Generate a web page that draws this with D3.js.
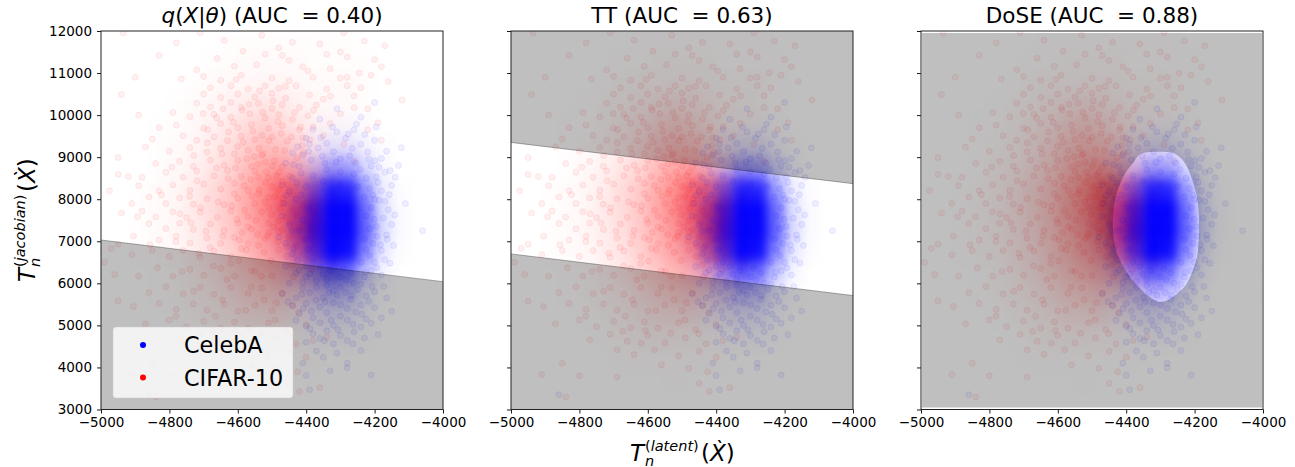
<!DOCTYPE html>
<html><head><meta charset="utf-8">
<style>html,body{margin:0;background:#fff}svg{display:block;font-family:"DejaVu Sans",sans-serif}</style>
<script src="https://cdn.jsdelivr.net/npm/d3@7/dist/d3.min.js"></script></head><body>
<svg id="c" width="1295" height="467"></svg>
<script>
const xTicks=[-5000,-4800,-4600,-4400,-4200,-4000];
const yTicks=[3000,4000,5000,6000,7000,8000,9000,10000,11000,12000];
const panelTitles=["q(X|θ) (AUC  = 0.40)","TT (AUC  = 0.63)","DoSE (AUC  = 0.88)"];
const legendLabels=["CelebA","CIFAR-10"];
// density, percent opacity per bin
const binX=[-4975,-4925,-4875,-4825,-4775,-4725,-4675,-4625,-4575,-4525,-4475,-4425,-4375,-4325,-4275,-4225,-4175,-4125,-4075,-4025];
const binY=[11750,11250,10750,10250,9750,9250,8750,8250,7750,7250,6750,6250,5750,5250,4750,4250,3750,3250];
const redDensity=[
[0,0,0,0,0,0,0,1,1,1,1,1,1,1,1,0,0,0,0,0],
[0,0,0,0,0,0,1,1,2,2,2,2,1,1,1,1,0,0,0,0],
[0,0,0,0,0,1,2,3,3,4,4,3,2,2,2,1,0,0,0,0],
[0,0,0,0,1,2,3,6,8,10,9,6,4,3,2,1,0,0,0,0],
[0,0,0,1,1,3,6,9,14,18,15,10,5,3,2,1,0,0,0,0],
[0,0,0,1,2,4,8,13,20,26,24,17,8,3,2,1,0,0,0,0],
[0,0,0,1,3,6,10,16,26,34,38,32,18,6,2,0,0,0,0,0],
[0,0,1,2,4,8,14,21,32,44,60,58,50,20,3,0,0,0,0,0],
[0,0,1,2,4,9,14,22,34,46,62,72,85,50,5,0,0,0,0,0],
[0,0,1,2,4,8,13,21,30,42,56,74,90,60,6,0,0,0,0,0],
[0,0,1,2,3,7,11,18,27,36,44,60,65,40,4,0,0,0,0,0],
[0,0,0,1,2,5,9,15,21,28,31,30,22,9,2,0,0,0,0,0],
[0,0,0,1,2,4,6,10,15,18,20,15,9,4,1,0,0,0,0,0],
[0,0,0,0,1,2,4,6,9,10,10,6,3,1,0,0,0,0,0,0],
[0,0,0,0,0,1,2,3,4,4,3,2,1,1,0,0,0,0,0,0],
[0,0,0,0,0,0,1,1,1,1,1,1,1,0,0,0,0,0,0,0],
[0,0,0,0,0,0,0,0,0,1,0,0,0,0,0,0,0,0,0,0],
[0,0,0,0,0,0,0,0,0,0,0,0,0,0,0,0,0,0,0,0]];
const blueDensity=[
[0,0,0,0,0,0,0,0,0,0,0,0,0,0,0,0,0,0,0,0],
[0,0,0,0,0,0,0,0,0,0,0,0,0,0,0,0,0,0,0,0],
[0,0,0,0,0,0,0,0,0,0,0,0,0,0,0,0,0,0,0,0],
[0,0,0,0,0,0,0,0,0,0,0,0,0,0,0,0,0,0,0,0],
[0,0,0,0,0,0,0,0,0,0,0,0,1,2,2,1,0,0,0,0],
[0,0,0,0,0,0,0,0,0,0,0,2,5,11,10,4,1,0,0,0],
[0,0,0,0,0,0,0,0,0,0,1,6,20,40,38,16,3,0,0,0],
[0,0,0,0,0,0,0,0,0,0,3,18,52,88,86,40,7,1,0,0],
[0,0,0,0,0,0,0,0,0,1,7,32,70,100,100,58,12,2,0,0],
[0,0,0,0,0,0,0,0,0,1,8,36,76,100,100,62,14,2,0,0],
[0,0,0,0,0,0,0,0,0,1,6,30,68,100,96,48,9,1,0,0],
[0,0,0,0,0,0,0,0,0,0,4,16,42,66,56,22,4,0,0,0],
[0,0,0,0,0,0,0,0,0,0,2,7,18,28,24,8,1,0,0,0],
[0,0,0,0,0,0,0,0,0,0,1,3,7,11,9,3,0,0,0,0],
[0,0,0,0,0,0,0,0,0,0,0,1,2,3,3,1,0,0,0,0],
[0,0,0,0,0,0,0,0,0,0,0,0,0,0,0,0,0,0,0,0],
[0,0,0,0,0,0,0,0,0,0,0,0,0,0,0,0,0,0,0,0],
[0,0,0,0,0,0,0,0,0,0,0,0,0,0,0,0,0,0,0,0]];
const redPoints=[
[-4935,11950],[-4710,11960],[-4530,11900],[-4290,11960],[-4780,11720],[-4640,11780],[-4440,11730],[-4360,11690],[-4230,11760],[-4170,11650],
[-4480,11600],[-4470,11420],[-4450,11300],[-4520,11450],[-4585,11520],[-4660,11350],[-4340,11450],[-4300,11500],[-4280,11380],[-4200,11320],
[-4180,11150],[-4830,11420],[-4720,11080],[-4610,11160],[-4545,11200],[-4410,11150],[-4395,11050],[-4330,11100],[-4245,11000],[-4210,10950],
[-4900,10900],[-4765,10860],[-4700,10920],[-4650,10830],[-4590,10950],[-4500,10880],[-4450,10820],[-4380,10900],[-4300,10880],[-4280,10700],
[-4160,10800],[-4240,10650],[-4680,10650],[-4620,10700],[-4570,10620],[-4520,10700],[-4480,10640],[-4430,10700],[-4340,10620],[-4120,10360],
[-4940,10490],[-4700,10500],[-4650,10420],[-4600,10500],[-4550,10430],[-4500,10520],[-4460,10400],[-4390,10480],[-4350,10380],[-4260,10460],
[-4720,10280],[-4680,10190],[-4620,10300],[-4590,10180],[-4540,10280],[-4500,10160],[-4470,10250],[-4420,10180],[-4370,10240],[-4220,10150],
[-4890,10000],[-4790,10060],[-4740,9960],[-4670,10020],[-4620,9950],[-4565,10030],[-4520,9930],[-4480,10010],[-4440,9900],[-4395,9980],
[-4830,9700],[-4780,9760],[-4700,9690],[-4650,9800],[-4600,9700],[-4560,9770],[-4510,9680],[-4470,9750],[-4420,9650],[-4380,9720],
[-4850,9430],[-4760,9510],[-4720,9400],[-4670,9480],[-4630,9390],[-4590,9500],[-4550,9420],[-4500,9480],[-4455,9380],[-4410,9460],
[-4950,8990],[-4870,9240],[-4800,9140],[-4740,9230],[-4690,9120],[-4650,9210],[-4610,9080],[-4570,9160],[-4530,9050],[-4490,9180],
[-4920,8540],[-4840,8850],[-4770,8900],[-4730,8780],[-4680,8930],[-4640,8810],[-4600,8920],[-4560,8780],[-4520,8880],[-4470,8770],
[-4950,8590],[-4880,8520],[-4810,8640],[-4760,8520],[-4720,8670],[-4670,8560],[-4630,8680],[-4590,8540],[-4550,8660],[-4510,8510],
[-4975,8200],[-4890,8320],[-4830,8200],[-4790,8340],[-4740,8210],[-4700,8360],[-4650,8240],[-4610,8380],[-4570,8210],[-4480,8230],
[-4910,7900],[-4860,8050],[-4810,7900],[-4770,8030],[-4730,7880],[-4690,8010],[-4640,7870],[-4600,8020],[-4550,7900],[-4510,8040],
[-4940,7670],[-4880,7720],[-4840,7580],[-4790,7700],[-4750,7560],[-4710,7690],[-4660,7570],[-4620,7720],[-4570,7590],[-4530,7700],
[-4860,7420],[-4810,7300],[-4770,7430],[-4730,7280],[-4680,7410],[-4640,7260],[-4600,7430],[-4560,7290],[-4510,7420],[-4470,7270],
[-4950,6930],[-4905,7120],[-4830,7030],[-4780,7120],[-4740,6960],[-4690,7080],[-4650,6950],[-4610,7090],[-4570,6940],[-4520,7060],
[-4990,6500],[-4970,6830],[-4910,6680],[-4850,6780],[-4800,6640],[-4760,6780],[-4710,6620],[-4670,6770],[-4620,6640],[-4575,6790],
[-4960,6210],[-4890,6170],[-4835,6370],[-4790,6170],[-4740,6330],[-4700,6190],[-4650,6350],[-4610,6170],[-4560,6300],[-4500,6180],
[-4950,5580],[-4860,5780],[-4810,5920],[-4760,5750],[-4710,5900],[-4670,5740],[-4620,5900],[-4570,5760],[-4530,5890],[-4470,5770],
[-4905,5450],[-4830,5520],[-4780,5380],[-4730,5510],[-4690,5360],[-4640,5500],[-4600,5340],[-4550,5480],[-4500,5350],[-4440,5470],
[-4870,5040],[-4800,5130],[-4750,4970],[-4700,5100],[-4650,4940],[-4610,5080],[-4570,4930],[-4510,5060],[-4460,4900],[-4400,5020],
[-4770,4660],[-4710,4790],[-4660,4620],[-4600,4760],[-4550,4580],[-4490,4700],[-4430,4560],[-4380,4640],[-4340,4720],[-4690,4420],
[-4640,4310],[-4580,4420],[-4510,4280],[-4450,4380],[-4400,4240],[-4850,4100],[-4560,4060],[-4480,3980],[-4425,3900],[-4450,3620],
[-4910,3830],[-4800,3800],[-4690,3770],[-4360,3520],[-4420,3430],[-4840,3300],
[-4470,8420],[-4450,8170],[-4470,7900],[-4500,8300],[-4440,7720],[-4420,7320],[-4450,7100],[-4480,7480],[-4430,6900],[-4510,7800],
[-4540,8520],[-4540,8130],[-4580,7740],[-4480,8640],[-4610,8130],[-4570,7340],[-4510,7200],[-4540,6900],[-4480,6800],[-4400,6560],
[-4280,10900],[-4260,10180],[-4300,10030],[-4220,9650],[-4190,9820],[-4330,9800],[-4350,9510],[-4290,9300],[-4180,9400],[-4260,8900],
[-4613,9827],[-4497,10342],[-4538,9211],[-4662,8743],[-4426,8987],[-4581,8321],[-4709,7798],[-4473,9564],[-4644,7123],[-4523,6734],
[-4587,10113],[-4434,10062],[-4689,9341],[-4516,8643],[-4603,7517],[-4491,8067],[-4556,9618],[-4628,8489],[-4463,9157],[-4719,8437],
[-4542,7163],[-4598,6532],[-4671,6412],[-4503,7629],[-4447,8546],[-4584,9354],[-4527,10067],[-4646,9077],[-4412,9277],[-4769,7652],
[-4618,7847],[-4482,6987],[-4561,5913],[-4693,7239],[-4537,8217],[-4458,7567],[-4632,6087],[-4574,8961],[-4509,9391],[-4741,8066],
[-4596,7031],[-4523,5612],[-4665,5218],[-4437,6153],[-4714,6713],[-4549,6283],[-4487,5538],[-4607,4881],[-4383,6331],[-4781,6993],
[-4519,8397],[-4476,7781],[-4562,8469],[-4433,8281],[-4607,8743],[-4494,7343],[-4547,7497],[-4458,6638],[-4526,9083],[-4589,6827],
[-4499,8783],[-4567,10261],[-4417,9719],[-4643,10153],[-4536,10578],[-4379,10113],[-4688,9653],[-4461,10683],[-4605,10847],[-4329,10453],
[-4729,9037],[-4793,8761],[-4657,7931],[-4823,8109],[-4737,7437],[-4681,6853],[-4857,6917],[-4763,6281],[-4621,6473],[-4893,7581],
[-4468,8013],[-4446,7439],[-4487,8559],[-4429,7611],[-4513,7127],[-4457,6873],[-4437,8109],[-4503,6541],[-4441,6433],[-4531,6167],
[-4577,5357],[-4645,5607],[-4491,5127],[-4729,5813],[-4533,4811],[-4423,5307],[-4619,4573],[-4781,5219],[-4451,4803],[-4673,4857],
[-4443,9481],[-4529,9517],[-4601,9253],[-4662,9933],[-4408,9103],[-4483,9847],[-4553,9013],[-4627,9601],[-4389,9413],[-4701,10037],
[-4479,7231],[-4521,7933],[-4453,8347],[-4409,7883],[-4393,7437],[-4412,7051],[-4541,8837],[-4559,8071],[-4493,8913],[-4587,7203]];
const bluePoints=[
[-4060,7250],[-4390,3470],[-4190,4780],[-4122,9225],[-4130,8800],[-4150,8330],[-4110,7900],[-4155,8680],[-4200,10300],[-4310,10150],
[-4360,9900],[-4310,9600],[-4260,9650],[-4240,9950],[-4195,9720],[-4380,9660],[-4425,9250],[-4400,9450],[-4340,9330],[-4285,9450],
[-4240,9310],[-4200,9400],[-4165,9140],[-4180,8970],[-4220,9120],[-4265,9210],[-4320,9130],[-4365,9220],[-4410,9050],[-4440,9100],
[-4460,8860],[-4420,8780],[-4385,8930],[-4345,8860],[-4300,8960],[-4255,8860],[-4210,8790],[-4170,8640],[-4140,8520],[-4195,8530],
[-4440,8500],[-4470,8340],[-4450,8200],[-4430,8000],[-4465,7900],[-4470,7600],[-4450,7400],[-4480,7100],[-4460,6950],[-4440,6700],
[-4190,8400],[-4180,8200],[-4170,7950],[-4160,7750],[-4175,7550],[-4150,7400],[-4165,7150],[-4145,6900],[-4180,6780],[-4170,6560],
[-4205,8100],[-4210,7800],[-4195,7350],[-4205,6950],[-4200,6500],[-4155,6480],[-4210,6300],[-4180,6200],[-4230,6150],[-4260,6000],
[-4460,6400],[-4430,6250],[-4400,6150],[-4370,6050],[-4450,6000],[-4410,5880],[-4340,5950],[-4300,5900],[-4250,5850],[-4200,5800],
[-4470,5750],[-4430,5650],[-4390,5780],[-4350,5660],[-4310,5720],[-4270,5620],[-4225,5700],[-4165,5650],[-4440,5470],[-4400,5520],
[-4360,5440],[-4320,5540],[-4280,5400],[-4240,5480],[-4200,5420],[-4150,5340],[-4420,5280],[-4380,5180],[-4340,5300],[-4300,5220],
[-4255,5320],[-4225,5150],[-4180,5180],[-4430,5120],[-4400,4980],[-4360,5060],[-4320,5000],[-4280,5120],[-4240,4960],[-4210,5050],
[-4380,4800],[-4340,4870],[-4300,4760],[-4260,4850],[-4230,4700],[-4400,4600],[-4360,4690],[-4320,4560],[-4280,4640],[-4240,4400],
[-4370,4390],[-4310,4340],[-4280,4100],[-4350,4240],[-4410,4100],[-4330,3920],[-4400,3810],[-4280,3990],[-4210,3820],[-4860,3350],
[-4340,8700],[-4300,8650],[-4260,8600],[-4225,8500],[-4380,8560],[-4415,8620],[-4350,8420],[-4300,8350],[-4250,8300],[-4400,8300],
[-4215,8250],[-4200,8000],[-4230,8050],[-4415,8100],[-4395,7800],[-4410,7500],[-4420,7250],[-4400,7050],[-4395,6800],[-4380,6500],
[-4225,7600],[-4215,7300],[-4230,7050],[-4225,6800],[-4240,6500],[-4290,6350],[-4330,6300],[-4360,6400],[-4400,6400],[-4425,6550],
[-4340,6100],[-4300,6150],[-4270,6250],[-4320,5830],[-4370,5900],[-4285,5780],[-4410,6020],[-4240,5980],[-4345,5560],[-4385,5340],
[-4437,8823],[-4393,9137],[-4273,9033],[-4217,8947],[-4353,9023],[-4187,8763],[-4313,8877],[-4243,8713],[-4427,8391],[-4459,8089],
[-4187,7973],[-4201,7521],[-4193,7117],[-4183,6913],[-4213,6661],[-4441,7253],[-4437,6841],[-4421,6313],[-4389,6227],[-4193,6367],
[-4351,6217],[-4283,6083],[-4227,6263],[-4413,5733],[-4333,5783],[-4267,5713],[-4207,5927],[-4371,5597],[-4299,5487],[-4453,5563],
[-4409,5401],[-4327,5127],[-4263,5023],[-4389,4923],[-4307,4893],[-4347,4637],[-4263,4557],[-4217,5567],[-4237,5263],[-4173,5923],
[-4163,7047],[-4141,7627],[-4157,8107],[-4199,8917],[-4357,9463],[-4277,9553],[-4323,9717],[-4253,9787],[-4229,9533],[-4391,9311]];
// outline of the accepted region in the third panel
const blobX=[-4351,-4263,-4222,-4193,-4187,-4193,-4222,-4263,-4301,-4339,-4389,-4427,-4439,-4433,-4409,-4380];
const blobY=[9100,9100,8767,8053,7340,6627,6008,5676,5557,5723,6151,6722,7340,7982,8529,8862];
// boundary lines, left and right end values
const lineEndsA=[7030,6040];
const lineEndsB=[[9350,8370],[6700,5710]];

const svg=d3.select("#c"),W=342,H=378.5,topY=31,lefts=[101,511,921];
const x=d3.scaleLinear().domain([-5000,-4000]).range([0,W]);
const y=d3.scaleLinear().domain([3000,12000]).range([H,0]);
const fmt=d=>String(d).replace("-","\u2212");
const defs=svg.append("defs");
defs.append("clipPath").attr("id","clip").append("rect").attr("width",W).attr("height",H);
defs.append("filter").attr("id","blurA").attr("x","-10%").attr("y","-10%").attr("width","120%").attr("height","120%")
 .append("feGaussianBlur").attr("stdDeviation","5.5 7");
defs.append("filter").attr("id","blurB").attr("x","-10%").attr("y","-10%").attr("width","120%").attr("height","120%")
 .append("feGaussianBlur").attr("stdDeviation","0.7");

function layer(g,matrix,pts,color){
  const d=g.append("g").attr("filter","url(#blurA)");
  matrix.forEach((row,j)=>row.forEach((v,i)=>{ if(!v)return;
    d.append("rect").attr("x",x(binX[i]-25)).attr("y",y(binY[j]+250))
     .attr("width",x(binX[i]+25)-x(binX[i]-25)).attr("height",y(binY[j]-250)-y(binY[j]+250))
     .attr("fill",color).attr("fill-opacity",v/100);
  }));
  g.append("g").selectAll("circle").data(pts).join("circle")
   .attr("cx",p=>x(p[0])).attr("cy",p=>y(p[1])).attr("r",3)
   .attr("fill",color).attr("fill-opacity",.055)
   .attr("stroke",color).attr("stroke-opacity",.07).attr("stroke-width",1);
}
function gridOverlay(g,i){
  const ln=d3.line().x(d=>x(d[0])).y(d=>y(d[1]));
  const L=-5000,R=-4000,T=12000,B=3000;
  const poly=(pts)=>g.append("path").attr("d",ln(pts)+"Z").attr("fill","#000").attr("fill-opacity",.25);
  const edge=(a)=>g.append("path").attr("d",ln([[L,a[0]],[R,a[1]]])).attr("stroke","#000").attr("stroke-opacity",.3).attr("stroke-width",1).attr("fill","none");
  if(i===0){poly([[L,lineEndsA[0]],[R,lineEndsA[1]],[R,B],[L,B]]);edge(lineEndsA);}
  if(i===1){const[u,l]=lineEndsB;poly([[L,T],[R,T],[R,u[1]],[L,u[0]]]);poly([[L,l[0]],[R,l[1]],[R,B],[L,B]]);edge(u);edge(l);}
  if(i===2){
    const blob=blobX.map((v,k)=>[v,blobY[k]]);
    const lc=d3.line().x(d=>x(d[0])).y(d=>y(d[1])).curve(d3.curveCardinalClosed.tension(.15));
    const outer=ln([[L+3,T-45],[R-3,T-45],[R-3,B+45],[L+3,B+45]])+"Z";
    g.append("path").attr("d",outer+lc(blob)).attr("fill-rule","evenodd").attr("fill","#000").attr("fill-opacity",.25).attr("filter","url(#blurB)");
  }
}
function italic(t,s){t.append("tspan").attr("font-style","italic").text(s);}
function mathLabel(g,sup,supEnd){
  const fs=23;
  const t=g.append("text").attr("x",0).attr("y",0).attr("font-size",fs).attr("fill","#000");
  italic(t,"T");
  g.append("text").attr("x",15).attr("y",5).attr("font-size",14.5).attr("font-style","italic").text("n");
  const s=g.append("text").attr("x",15).attr("y",-10).attr("font-size",14.5);
  s.append("tspan").text("(");italic(s,sup);s.append("tspan").text(")");
  g.append("text").attr("x",supEnd).attr("y",0).attr("font-size",fs).html('(<tspan font-style="italic">X\u0300</tspan>)');
}
panelTitles.forEach((title,i)=>{
  const g=svg.append("g").attr("transform",`translate(${lefts[i]},${topY})`);
  const p=g.append("g").attr("clip-path","url(#clip)");
  p.append("rect").attr("width",W).attr("height",H).attr("fill","#fff");
  layer(p,redDensity,redPoints,"#f00");
  layer(p,blueDensity,bluePoints,"#00f");
  gridOverlay(p,i);
  const ax=g.append("g").attr("transform",`translate(0,${H})`).call(d3.axisBottom(x).tickValues(xTicks).tickFormat(fmt).tickSize(4).tickPadding(4));
  const ay=g.append("g").call(d3.axisLeft(y).tickValues(yTicks).tickFormat(i?()=>"":d=>d).tickSize(4).tickPadding(5));
  [ax,ay].forEach(a=>{a.selectAll("text").attr("font-size",13.5).attr("font-family","DejaVu Sans").attr("fill","#000");
    a.select(".domain").remove();a.selectAll("line").attr("stroke","#000").attr("stroke-width",.9);});
  g.append("rect").attr("width",W).attr("height",H).attr("fill","none").attr("stroke","#222").attr("stroke-width",1);
  const t=g.append("text").attr("x",W/2).attr("y",-8).attr("text-anchor","middle").attr("font-size",21.5).style("white-space","pre");
  if(i===0){italic(t,"q");t.append("tspan").text("(");italic(t,"X");t.append("tspan").text("|");italic(t,"θ");t.append("tspan").text(") (AUC  = 0.40)");}
  else t.text(title);
});
const lg=svg.append("g").attr("transform","translate(113,327)");
lg.append("rect").attr("width",180).attr("height",71).attr("rx",3).attr("fill","#fff").attr("fill-opacity",.8).attr("stroke","#ccc").attr("stroke-opacity",.5);
legendLabels.forEach((l,i)=>{
  lg.append("circle").attr("cx",30).attr("cy",18+i*32.5).attr("r",3).attr("fill",i?"#f00":"#00f");
  lg.append("text").attr("x",71).attr("y",26+i*32.5).attr("font-size",22.3).attr("fill","#000").text(l);
});
mathLabel(svg.append("g").attr("transform","translate(630,461)"),"latent",71);
mathLabel(svg.append("g").attr("transform","translate(35,282) rotate(-90)"),"jacobian",90);
</script></body></html>
